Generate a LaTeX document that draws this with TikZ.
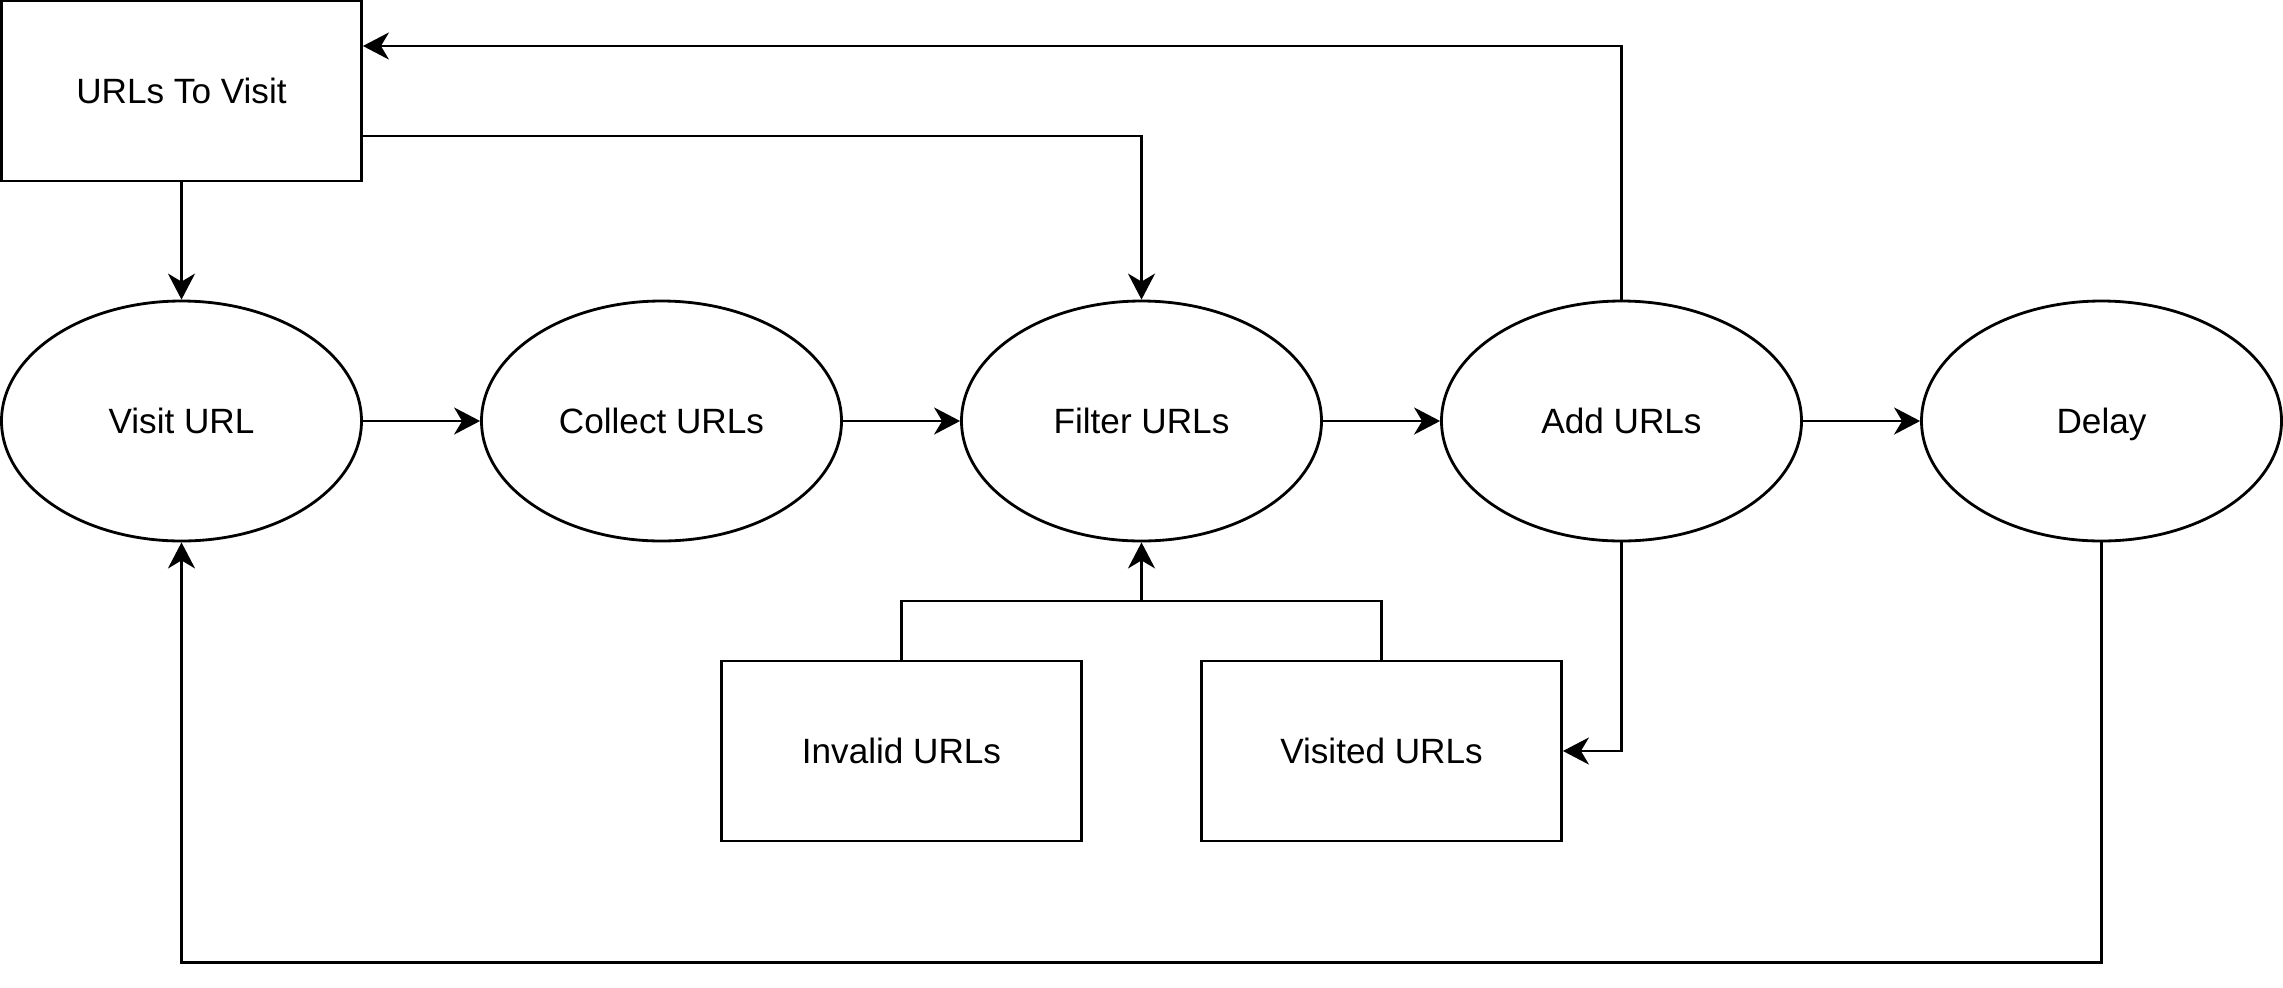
\documentclass[tikz,border=0pt]{standalone}
\usepackage{fontspec}
\setmainfont{Liberation Sans}
\usepackage{xcolor}
\usepackage{tikz}
\usetikzlibrary{arrows.meta,positioning,calc,shapes.geometric}
\definecolor{cInk}{HTML}{000000}
\tikzset{
  store/.style={draw=cInk,line width=0.8pt,minimum width=3.6cm,minimum height=1.8cm,inner sep=0pt,text=cInk,font=\fontsize{10}{12}\selectfont,text height=7.2pt,text depth=0pt},
  task/.style={ellipse,draw=cInk,line width=0.8pt,minimum width=3.6cm,minimum height=2.4cm,inner sep=0pt,text=cInk,font=\fontsize{10}{12}\selectfont,text height=7.2pt,text depth=0pt},
  arr/.style={-{Stealth[length=0.26cm,width=0.27cm,inset=0.08cm]},line width=0.8pt,color=cInk},
  wire/.style={line width=0.8pt,color=cInk},
}

\begin{document}
\begin{tikzpicture}[x=1cm,y=1cm,node distance=4.8cm,on grid]
  \useasboundingbox (0,0) rectangle (22.83,-9.87);
  % the main chain
  \node[store] (tovisit) at (1.815,-0.91) {URLs To Visit};
  \node[task] (visit) at (1.815,-4.21) {Visit URL};
  \node[task,right=of visit] (collect) {Collect URLs};
  \node[task,right=of collect] (filter) {Filter URLs};
  \node[task,right=of filter] (add) {Add URLs};
  \node[task,right=of add] (delay) {Delay};
  % lookup stores
  \node[store] (invalid) at ($(filter)+(-2.4,-3.3)$) {Invalid URLs};
  \node[store] (visited) at ($(filter)+(2.4,-3.3)$) {Visited URLs};
  \coordinate (junc) at ($(filter.south)!0.5!(filter.south |- invalid.north)$);

  \draw[arr] (tovisit.south) -- (visit.north);
  \draw[arr] (visit.east) -- (collect.west);
  \draw[arr] (collect.east) -- (filter.west);
  \draw[arr] (filter.east) -- (add.west);
  \draw[arr] (add.east) -- (delay.west);
  \draw[arr] ([yshift=-0.45cm]tovisit.east) -| (filter.north);
  \draw[arr] (add.north) |- ([yshift=0.45cm]tovisit.east);
  \draw[wire] (invalid.north) |- (junc);
  \draw[wire] (visited.north) |- (junc);
  \draw[arr] (junc) -- (filter.south);
  \draw[arr] (add.south) |- (visited.east);
  \draw[arr] (delay.south) -- ++(0,-4.2) -| (visit.south);
\end{tikzpicture}
\end{document}
